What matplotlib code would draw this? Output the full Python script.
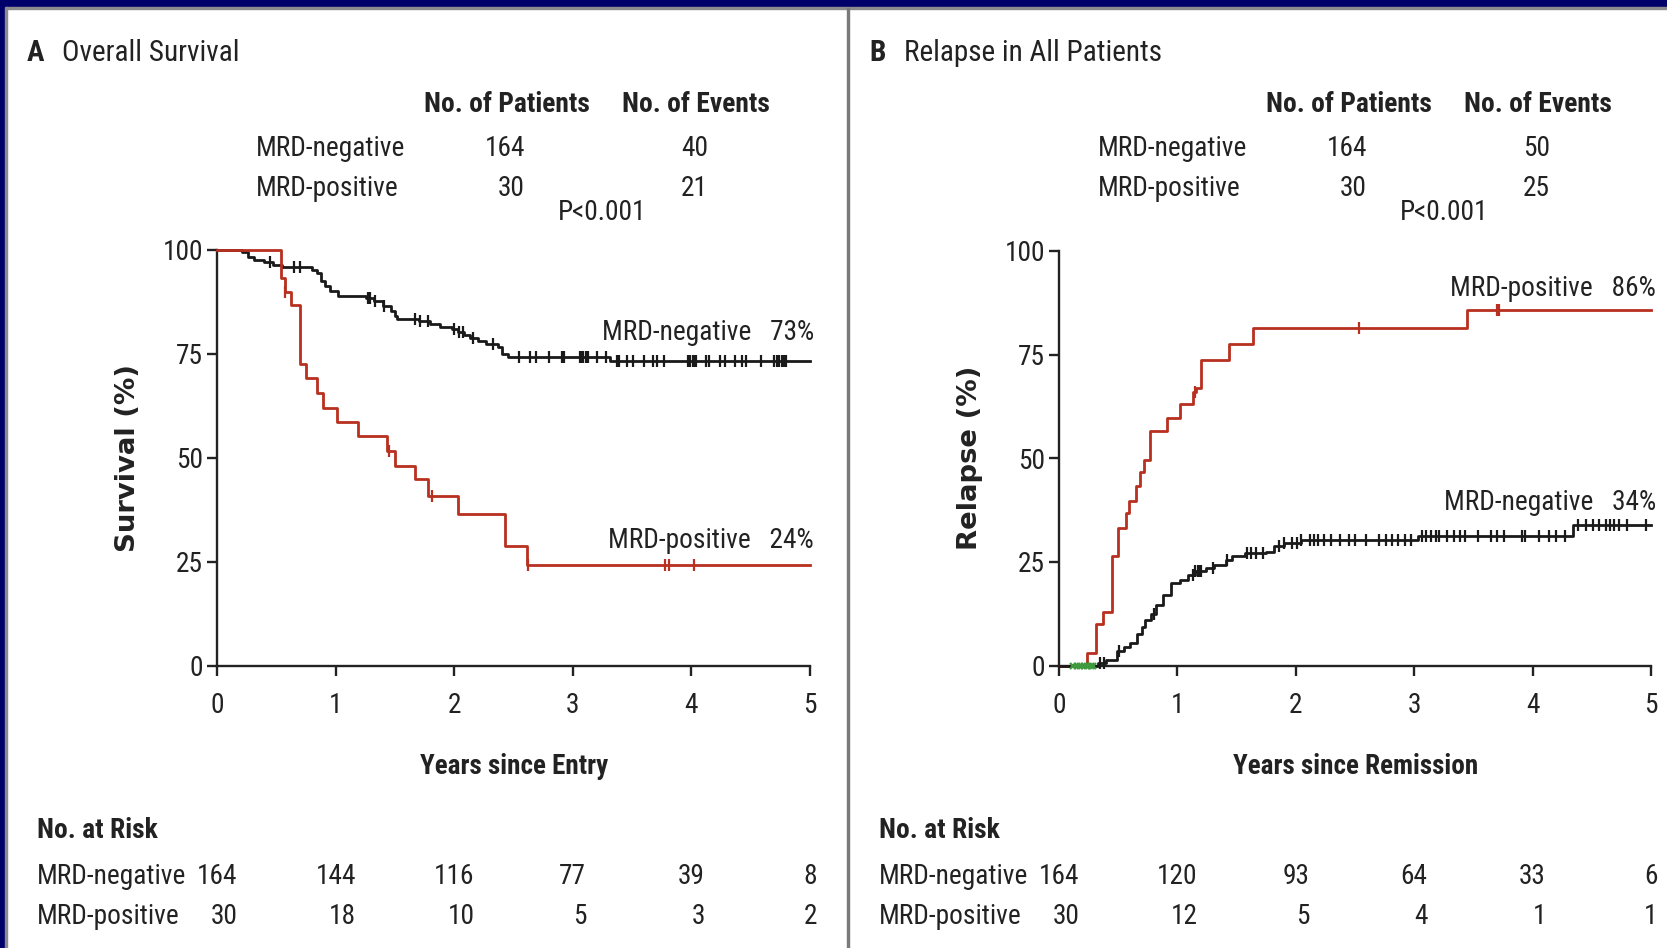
import os
import matplotlib
matplotlib.use("Agg")
import numpy as np
import matplotlib.pyplot as plt
from matplotlib import font_manager, transforms
from matplotlib.font_manager import FontProperties
from matplotlib.textpath import TextPath
from matplotlib.patches import Rectangle

# ---- data ----
# panel A: overall survival (%)
neg_os_t = [0, 0.21, 0.26, 0.31, 0.40, 0.47, 0.55, 0.80, 0.84, 0.88, 0.91, 0.95, 1.02, 1.26, 1.32,
            1.40, 1.47, 1.50, 1.52, 1.70, 1.80, 1.88, 1.98, 2.03, 2.08, 2.13, 2.20, 2.27, 2.37,
            2.40, 2.45, 3.31, 5.0]
neg_os_s = [100, 99.4, 98.2, 97.6, 97.0, 96.4, 95.8, 95.2, 94.5, 92.6, 91.4, 90.2, 89.0, 88.4, 87.8,
            86.6, 85.4, 84.1, 83.5, 82.8, 82.2, 81.5, 80.9, 80.2, 79.5, 78.8, 78.1, 77.4, 76.6,
            75.0, 74.3, 73.2, 73.2]
neg_os_cens = [0.45, 0.65, 0.70, 1.27, 1.29, 1.33, 1.41, 1.67, 1.71, 1.78, 2.00, 2.04, 2.07, 2.16,
               2.33, 2.55, 2.64, 2.69, 2.80, 2.91, 2.93, 3.06, 3.08, 3.09, 3.11, 3.13, 3.20, 3.28,
               3.37, 3.39, 3.46, 3.51, 3.60, 3.68, 3.71, 3.77, 3.97, 3.99, 4.01, 4.02, 4.04, 4.12,
               4.15, 4.24, 4.28, 4.37, 4.43, 4.46, 4.59, 4.70, 4.72, 4.74, 4.76, 4.77, 4.79, 4.80]
pos_os_t = [0, 0.54, 0.57, 0.62, 0.70, 0.75, 0.84, 0.89, 1.01, 1.19, 1.43, 1.50, 1.67, 1.78,
            2.03, 2.43, 2.61, 5.0]
pos_os_s = [100, 93.3, 90, 86.7, 72.5, 69.3, 65.7, 62, 58.5, 55.3, 51.6, 48, 44.8, 40.8,
            36.4, 28.8, 24.3, 24.3]
pos_os_cens = [0.57, 1.45, 1.81, 2.62, 3.78, 3.81, 4.02]

# panel B: cumulative relapse (%)
pos_rel_t = [0, 0.24, 0.31, 0.37, 0.45, 0.50, 0.57, 0.59, 0.65, 0.68, 0.72, 0.77, 0.91, 1.02,
             1.13, 1.16, 1.20, 1.44, 1.64, 3.45, 5.0]
pos_rel_s = [0, 3.0, 9.9, 13.0, 26.3, 33.2, 36.8, 39.6, 43.2, 46.8, 49.6, 56.5, 59.7, 63.0,
             66.1, 66.9, 73.7, 77.5, 81.4, 85.8, 85.8]
pos_rel_cens = [1.15, 2.53, 3.70, 3.72]
neg_rel_t = [0, 0.33, 0.40, 0.49, 0.55, 0.60, 0.66, 0.70, 0.73, 0.78, 0.82, 0.88, 0.95, 1.02,
             1.09, 1.15, 1.24, 1.31, 1.41, 1.46, 1.57, 1.75, 1.82, 1.90, 2.04, 3.03, 4.34, 5.0]
neg_rel_s = [0, 0.6, 1.4, 3.4, 4.5, 5.5, 7.5, 9.3, 11.0, 12.5, 14.6, 17.1, 19.9, 20.7,
             21.9, 22.7, 23.5, 24.3, 25.5, 26.3, 27.1, 27.5, 28.8, 29.6, 30.2, 31.2, 33.8, 33.8]
neg_rel_cens = [0.35, 0.38, 0.51, 0.80, 1.13, 1.15, 1.17, 1.19, 1.20, 1.30, 1.42, 1.59, 1.62,
                1.66, 1.72, 1.86, 1.90, 1.97, 2.01, 2.04, 2.12, 2.15, 2.19, 2.24, 2.30, 2.37,
                2.45, 2.50, 2.59, 2.70, 2.76, 2.81, 2.86, 2.92, 2.97, 3.07, 3.10, 3.14, 3.18,
                3.21, 3.28, 3.34, 3.39, 3.43, 3.54, 3.65, 3.70, 3.76, 3.91, 3.94, 4.05, 4.14,
                4.20, 4.27, 4.38, 4.45, 4.51, 4.56, 4.62, 4.65, 4.69, 4.73, 4.80, 4.96]
early_cens = [0.12, 0.15, 0.18, 0.21, 0.24, 0.27, 0.29]

years = [0, 1, 2, 3, 4, 5]
risk_a_neg = [164, 144, 116, 77, 39, 8]
risk_a_pos = [30, 18, 10, 5, 3, 2]
risk_b_neg = [164, 120, 93, 64, 33, 6]
risk_b_pos = [30, 12, 5, 4, 1, 1]


# ---- fonts: the original uses a condensed face, take one if there is one ----
def pick_font(bold):
    ranked = []
    for f in font_manager.fontManager.ttflist:
        base = os.path.basename(f.fname).lower()
        nm = f.name.lower()
        if f.style != "normal" or "italic" in base or "oblique" in base:
            continue
        cond = ("narrow" in nm or "narrow" in base or "condensed" in nm or "condensed" in base
                or str(f.stretch) in ("condensed", "semi-condensed"))
        if not cond:
            continue
        w = f.weight if isinstance(f.weight, (int, float)) else (700 if "bold" in str(f.weight) else 400)
        if bold and w < 600:
            continue
        if not bold and not (350 <= w <= 450):
            continue
        rank = 9
        for i, key in enumerate(["liberation", "roboto", "opensans", "open sans", "noto", "dejavu"]):
            if key in base or key in nm:
                rank = i
                break
        if "semicondensed" in base or "semi" in str(f.stretch):
            rank += 0.5
        ranked.append((rank, f.fname))
    if ranked:
        ranked.sort()
        return FontProperties(fname=ranked[0][1])
    return FontProperties(family="Liberation Sans", weight="bold" if bold else "normal")


REG = pick_font(False)
BOLD = pick_font(True)
YLAB = FontProperties(family="DejaVu Sans", weight="bold")


def size_for(prop, text, target_px):
    p = prop.copy()
    p.set_size(20)
    w = TextPath((0, 0), text, prop=p).get_extents().width * 100 / 72
    return 20 * target_px / w


FS = size_for(REG, "MRD-negative", 146)
FS_T = size_for(REG, "Overall Survival", 174)
FS_B = size_for(BOLD, "No. of Patients", 163)
FS_X = size_for(BOLD, "Years since Entry", 188)
FS_Y = size_for(YLAB, "Survival (%)", 184)

TXT = "#222222"
RED = "#b8301f"
BLK = "#1a1a1a"

W, H = 1667, 948
fig = plt.figure(figsize=(W / 100, H / 100), dpi=100)
fig.patch.set_facecolor("white")


def fx(px):
    return px / W


def fy(py):
    return 1 - py / H


def fp(prop, size):
    p = prop.copy()
    p.set_size(size)
    return p


def km_at(t, s, x):
    i = np.searchsorted(t, x, side="right") - 1
    return np.asarray(s)[i]


def setup_axes(ax):
    ax.set_xlim(0, 5)
    ax.set_ylim(0, 100)
    for sp in ["top", "right"]:
        ax.spines[sp].set_visible(False)
    for sp in ["left", "bottom"]:
        ax.spines[sp].set_linewidth(1.7)
        ax.spines[sp].set_color(TXT)
    ax.set_xticks(years)
    ax.set_yticks([0, 25, 50, 75, 100])
    ax.tick_params(direction="out", length=7, width=1.7, color=TXT, labelcolor=TXT)
    ax.tick_params(axis="x", pad=12)
    ax.tick_params(axis="y", pad=3)
    for lab in ax.get_xticklabels() + ax.get_yticklabels():
        lab.set_fontproperties(fp(REG, FS))
    ax.patch.set_alpha(0)


def curve(ax, t, s, cens, color):
    ax.step(t, s, where="post", color=color, lw=2.0, clip_on=False, zorder=3)
    ax.plot(cens, km_at(t, s, cens), ls="none", marker="|", ms=8, mew=1.6,
            color=color, clip_on=False, zorder=4)


axA = fig.add_axes([fx(217), fy(665.5), (810 - 217) / W, (665.5 - 250) / H])
axB = fig.add_axes([fx(1059), fy(665.5), (1651 - 1059) / W, (665.5 - 251) / H])
setup_axes(axA)
setup_axes(axB)

curve(axA, neg_os_t, neg_os_s, neg_os_cens, BLK)
curve(axA, pos_os_t, pos_os_s, pos_os_cens, RED)
curve(axB, pos_rel_t, pos_rel_s, pos_rel_cens, RED)
curve(axB, neg_rel_t, neg_rel_s, neg_rel_cens, BLK)
axB.plot(early_cens, np.zeros(len(early_cens)), ls="none", marker="x", ms=5, mew=1.6,
         color="#3f9a3f", clip_on=False, zorder=5)

# ---- frame ----
fig.patches.append(Rectangle((0, fy(7)), 1, 7 / H, transform=fig.transFigure,
                             color="#00006b", zorder=0))
fig.patches.append(Rectangle((0, fy(9)), 1, 2 / H, transform=fig.transFigure,
                             color="#8c8c8c", zorder=0))
fig.patches.append(Rectangle((0, 0), 5 / W, 1, transform=fig.transFigure,
                             color="#00006b", zorder=0))
fig.patches.append(Rectangle((5 / W, 0), 2 / W, fy(7), transform=fig.transFigure,
                             color="#8c8c8c", zorder=0))
fig.patches.append(Rectangle((fx(846.5), 0), 2.5 / W, fy(8), transform=fig.transFigure,
                             color="#7a7a7a", zorder=0))


def ftext(x, y, s, prop=REG, size=None, **kw):
    kw.setdefault("color", TXT)
    kw.setdefault("va", "center")
    return fig.text(fx(x), fy(y), s, fontproperties=fp(prop, size or FS), **kw)


# ---- panel headers and tables ----
panels = [
    (0, "A", "Overall Survival", "Survival (%)", "Years since Entry", [164, 30], [40, 21],
     [("MRD-negative   73%", 332), ("MRD-positive   24%", 540)]),
    (842, "B", "Relapse in All Patients", "Relapse (%)", "Years since Remission", [164, 30], [50, 25],
     [("MRD-positive   86%", 288), ("MRD-negative   34%", 503)]),
]
for dx, letter, title, ylab, xlab, npat, nev, ends in panels:
    ftext(27 + dx, 53, letter, BOLD, FS_T)
    ftext(62 + dx, 53, title, REG, FS_T)
    ftext(507 + dx, 105, "No. of Patients", BOLD, FS_B, ha="center")
    ftext(696 + dx, 105, "No. of Events", BOLD, FS_B, ha="center")
    for row, (lab, y) in enumerate([("MRD-negative", 148), ("MRD-positive", 188)]):
        ftext(256 + dx, y, lab)
        ftext(525 + dx, y, str(npat[row]), ha="right")
        ftext(708 + dx, y, str(nev[row]), ha="right")
    ftext(602 + dx, 213, "P<0.001", ha="center")
    for s, y in ends:
        ftext(814 + dx, y, s, ha="right")
    ftext(128 + dx, 458, ylab, YLAB, FS_Y, ha="center", rotation=90)
    ftext(514 + dx, 767, xlab, BOLD, FS_X, ha="center")
    ftext(37 + dx, 831, "No. at Risk", BOLD, FS_B)
    ftext(37 + dx, 876, "MRD-negative")
    ftext(37 + dx, 916, "MRD-positive")

# ---- number at risk ----
fig.canvas.draw()
rend = fig.canvas.get_renderer()
for ax, top, bot in [(axA, risk_a_neg, risk_a_pos), (axB, risk_b_neg, risk_b_pos)]:
    tr = transforms.blended_transform_factory(ax.transData, fig.transFigure)
    for yr, a, b in zip(years, top, bot):
        t = fig.text(yr, fy(876), str(a), transform=tr, ha="center", va="center",
                     fontproperties=fp(REG, FS), color=TXT)
        right = t.get_window_extent(rend).x1
        fig.text(right / fig.bbox.width, fy(916), str(b), ha="right", va="center",
                 fontproperties=fp(REG, FS), color=TXT)

fig.savefig("out.png", dpi=100, facecolor="white")
